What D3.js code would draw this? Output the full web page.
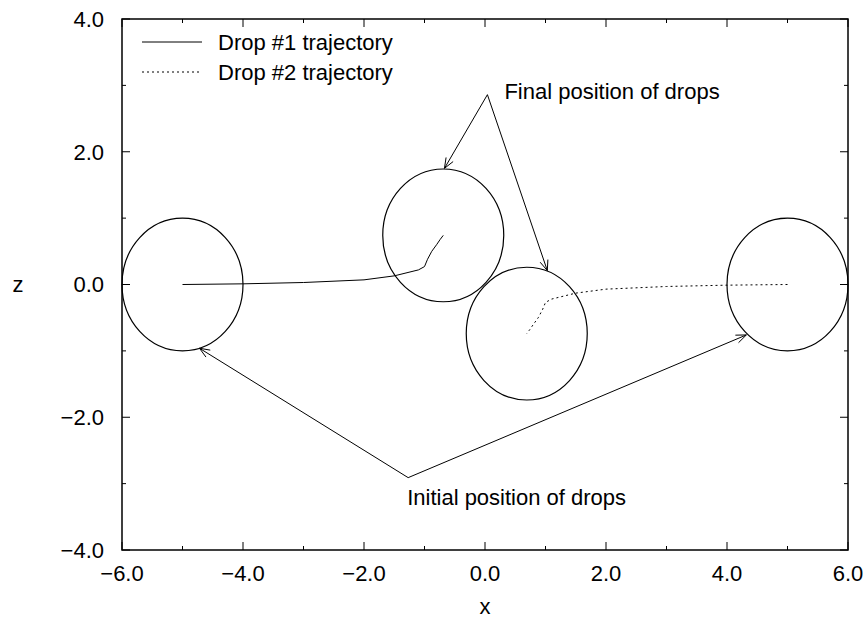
<!DOCTYPE html>
<html>
<head>
<meta charset="utf-8">
<script src="https://cdn.jsdelivr.net/npm/d3@7"></script>
<style>
  body { margin: 0; background: #fff; }
  svg text { font-family: "Liberation Sans", Arial, Helvetica, sans-serif; fill: #000; }
</style>
</head>
<body>
<svg id="chart" width="867" height="618"></svg>
<script>
// axis ranges and ticks
const xDomain = [-6, 6];
const zDomain = [-4, 4];
const majorTicksX = [-6, -4, -2, 0, 2, 4, 6];
const minorTicksX = [-5, -3, -1, 1, 3, 5];
const majorTicksZ = [-4, -2, 0, 2, 4];
const minorTicksZ = [-3, -1, 1, 3];

// drop trajectories (x, z)
const drop1X = [-5.0, -4.0, -3.0, -2.0, -1.5, -1.1, -1.0, -0.95, -0.88, -0.8, -0.74, -0.69];
const drop1Z = [0.0, 0.01, 0.03, 0.07, 0.13, 0.22, 0.27, 0.38, 0.5, 0.6, 0.68, 0.74];
const drop2X = [5.0, 4.0, 3.0, 2.0, 1.5, 1.1, 1.0, 0.95, 0.88, 0.8, 0.74, 0.69];
const drop2Z = [0.0, -0.01, -0.03, -0.07, -0.13, -0.22, -0.27, -0.38, -0.5, -0.6, -0.68, -0.74];

// drop outlines: centres, radius 1
const dropCentreX = [-5.0, 5.0, -0.69, 0.69];
const dropCentreZ = [0.0, 0.0, 0.74, -0.74];
const dropRadius = 1.0;

// annotations
const finalLabel = "Final position of drops";
const finalFrom = [0.04, 2.86];
const finalTo = [[-0.67, 1.75], [1.03, 0.21]];
const initLabel = "Initial position of drops";
const initFrom = [-1.27, -2.91];
const initTo = [[-4.72, -0.96], [4.32, -0.76]];

const legendLabels = ["Drop #1 trajectory", "Drop #2 trajectory"];

const margin = { left: 122, top: 19, right: 19, bottom: 68 };
const width = 867 - margin.left - margin.right;
const height = 618 - margin.top - margin.bottom;

const svg = d3.select("#chart");
const g = svg.append("g").attr("transform", `translate(${margin.left},${margin.top})`);

const x = d3.scaleLinear().domain(xDomain).range([0, width]);
const z = d3.scaleLinear().domain(zDomain).range([height, 0]);

// frame
g.append("rect")
  .attr("width", width).attr("height", height)
  .attr("fill", "none").attr("stroke", "#000").attr("stroke-width", 1.5);

// ticks on all four sides, pointing inward
function ticksX(vals, len) {
  vals.forEach(v => {
    g.append("line").attr("x1", x(v)).attr("x2", x(v)).attr("y1", height).attr("y2", height - len).attr("stroke", "#000");
    g.append("line").attr("x1", x(v)).attr("x2", x(v)).attr("y1", 0).attr("y2", len).attr("stroke", "#000");
  });
}
function ticksZ(vals, len) {
  vals.forEach(v => {
    g.append("line").attr("y1", z(v)).attr("y2", z(v)).attr("x1", 0).attr("x2", len).attr("stroke", "#000");
    g.append("line").attr("y1", z(v)).attr("y2", z(v)).attr("x1", width).attr("x2", width - len).attr("stroke", "#000");
  });
}
ticksX(majorTicksX, 8);
ticksX(minorTicksX, 4);
ticksZ(majorTicksZ, 8);
ticksZ(minorTicksZ, 4);

const fmt = v => d3.format(".1f")(v).replace("-", "\u2212");

g.selectAll(".xlab").data(majorTicksX).join("text")
  .attr("x", d => x(d)).attr("y", height + 31)
  .attr("text-anchor", "middle").attr("font-size", 22)
  .text(fmt);

g.selectAll(".zlab").data(majorTicksZ).join("text")
  .attr("x", -18).attr("y", d => z(d)).attr("dy", "0.36em")
  .attr("text-anchor", "end").attr("font-size", 22)
  .text(fmt);

svg.append("text").attr("x", margin.left + x(0)).attr("y", 614)
  .attr("text-anchor", "middle").attr("font-size", 22).text("x");
svg.append("text").attr("x", 18).attr("y", margin.top + z(0)).attr("dy", "0.36em")
  .attr("text-anchor", "middle").attr("font-size", 22).text("z");

// drop outlines
g.selectAll(".drop").data(dropCentreX).join("ellipse")
  .attr("cx", d => x(d))
  .attr("cy", (d, i) => z(dropCentreZ[i]))
  .attr("rx", x(dropRadius) - x(0))
  .attr("ry", z(0) - z(dropRadius))
  .attr("fill", "none").attr("stroke", "#000").attr("stroke-width", 1.2);

// trajectories
const line = d3.line().x(d => x(d[0])).y(d => z(d[1]));
g.append("path").datum(d3.zip(drop1X, drop1Z)).attr("d", line)
  .attr("fill", "none").attr("stroke", "#000").attr("stroke-width", 1);
g.append("path").datum(d3.zip(drop2X, drop2Z)).attr("d", line)
  .attr("fill", "none").attr("stroke", "#000").attr("stroke-width", 1).attr("stroke-dasharray", "2,3");

// arrows with open heads
function arrow(from, to) {
  const x1 = x(from[0]), y1 = z(from[1]), x2 = x(to[0]), y2 = z(to[1]);
  g.append("line").attr("x1", x1).attr("y1", y1).attr("x2", x2).attr("y2", y2)
    .attr("stroke", "#000").attr("stroke-width", 1);
  const a = Math.atan2(y2 - y1, x2 - x1);
  const L = 11, w = 0.38;
  const p = d3.path();
  p.moveTo(x2 - L * Math.cos(a - w), y2 - L * Math.sin(a - w));
  p.lineTo(x2, y2);
  p.lineTo(x2 - L * Math.cos(a + w), y2 - L * Math.sin(a + w));
  g.append("path").attr("d", p.toString()).attr("fill", "none").attr("stroke", "#000").attr("stroke-width", 1);
}
finalTo.forEach(t => arrow(finalFrom, t));
initTo.forEach(t => arrow(initFrom, t));

g.append("text").attr("x", x(finalFrom[0]) + 17).attr("y", z(finalFrom[1]) + 4)
  .attr("font-size", 22).text(finalLabel);
g.append("text").attr("x", x(initFrom[0]) - 1).attr("y", z(initFrom[1]) + 27)
  .attr("font-size", 22).text(initLabel);

// legend
const legend = g.append("g").attr("transform", "translate(20,23)");
legendLabels.forEach((lab, i) => {
  const yy = i * 30;
  legend.append("line").attr("x1", 0).attr("x2", 60).attr("y1", yy).attr("y2", yy)
    .attr("stroke", "#000").attr("stroke-width", 1)
    .attr("stroke-dasharray", i === 1 ? "2,3" : null);
  legend.append("text").attr("x", 76).attr("y", yy).attr("dy", "0.36em")
    .attr("font-size", 22).text(lab);
});
</script>
</body>
</html>
